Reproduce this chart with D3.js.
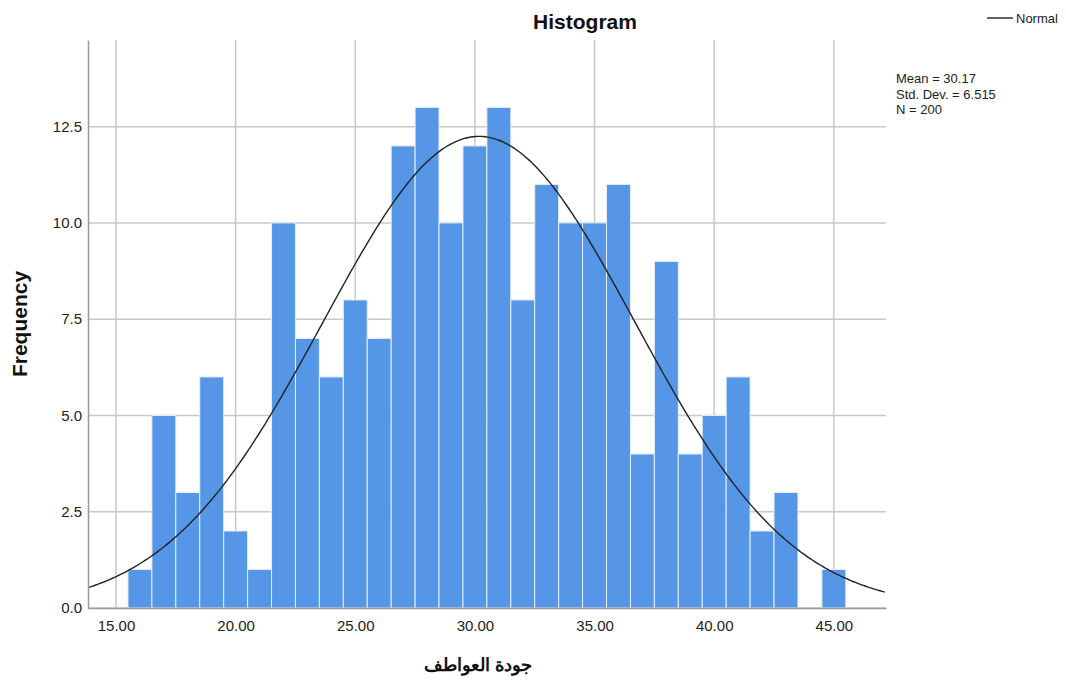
<!DOCTYPE html>
<html><head><meta charset="utf-8">
<script src="https://cdn.jsdelivr.net/npm/d3@7"></script>
<style>body{margin:0;background:#fff}svg{display:block}text{font-family:"Liberation Sans",Arial,sans-serif}</style>
</head><body><svg id="c" width="1066" height="681"></svg>
<script>
const binCenters = [16,17,18,19,20,21,22,23,24,25,26,27,28,29,30,31,32,33,34,35,36,37,38,39,40,41,42,43,44,45];
const counts     = [1,5,3,6,2,1,10,7,6,8,7,12,13,10,12,13,8,11,10,10,11,4,9,4,5,6,2,3,0,1];
const xTicks = [15,20,25,30,35,40,45];
const yTicks = [0,2.5,5,7.5,10,12.5];
const stats = {mean:30.17, sd:6.515, n:200};
const statLines = ["Mean = 30.17","Std. Dev. = 6.515","N = 200"];

const svg = d3.select("#c");
const L=88, R=886, T=40, B=608;
const x = d3.scaleLinear().domain([13.83,47.18]).range([L,R]);
const y = d3.scaleLinear().domain([0,14.75]).range([B,T]);

// grid
svg.append("g").selectAll("line").data(xTicks).join("line")
  .attr("x1",d=>x(d)).attr("x2",d=>x(d)).attr("y1",T).attr("y2",B)
  .attr("stroke","#c8c8c8").attr("stroke-width",1.5);
svg.append("g").selectAll("line").data(yTicks).join("line")
  .attr("x1",L).attr("x2",R).attr("y1",d=>y(d)).attr("y2",d=>y(d))
  .attr("stroke","#c8c8c8").attr("stroke-width",1.5);

// bars
svg.append("g").selectAll("rect").data(binCenters.map((c,i)=>({c,v:counts[i]})).filter(d=>d.v>0)).join("rect")
  .attr("x",d=>x(d.c-0.5)).attr("width",d=>x(d.c+0.5)-x(d.c-0.5))
  .attr("y",d=>y(d.v)).attr("height",d=>B-y(d.v))
  .attr("fill","#5596e6").attr("stroke","#e6eefa").attr("stroke-width",1);

// normal curve
const bw = 1;
const pts = d3.range(x.domain()[0], x.domain()[1]+0.01, 0.1).map(v=>[v, stats.n*bw/(stats.sd*Math.sqrt(2*Math.PI))*Math.exp(-0.5*((v-stats.mean)/stats.sd)**2)]);
svg.append("path").datum(pts)
  .attr("d", d3.line().x(d=>x(d[0])).y(d=>y(d[1])))
  .attr("fill","none").attr("stroke","#222").attr("stroke-width",1.4);

// axes
const xa = svg.append("g").attr("transform",`translate(0,${B})`)
  .call(d3.axisBottom(x).tickValues(xTicks).tickFormat(d3.format(".2f")).tickSize(0).tickPadding(12));
xa.select(".domain").attr("stroke","#999").attr("stroke-width",1.5);
xa.selectAll("text").attr("font-size",15).attr("fill","#222").attr("font-family","Liberation Sans, Arial, sans-serif");
const ya = svg.append("g").attr("transform",`translate(${L},0)`)
  .call(d3.axisLeft(y).tickValues(yTicks).tickFormat(d3.format(".1f")).tickSize(0).tickPadding(6));
ya.select(".domain").attr("stroke","#999").attr("stroke-width",1.5);
ya.selectAll("text").attr("font-size",15).attr("fill","#222").attr("font-family","Liberation Sans, Arial, sans-serif");

// title & labels
svg.append("text").attr("x",585).attr("y",29).attr("text-anchor","middle")
  .attr("font-size",21).attr("font-weight","bold").attr("fill","#111").text("Histogram");
svg.append("text").attr("transform","translate(27,324) rotate(-90)").attr("text-anchor","middle")
  .attr("font-size",21).attr("font-weight","bold").attr("fill","#111").text("Frequency");
svg.append("text").attr("x",478).attr("y",671).attr("text-anchor","middle")
  .attr("font-size",18).attr("font-weight","bold").attr("fill","#111")
  .attr("font-family","DejaVu Sans, sans-serif").text("جودة العواطف");

// legend
svg.append("line").attr("x1",987).attr("x2",1013).attr("y1",18).attr("y2",18).attr("stroke","#222").attr("stroke-width",1.4);
svg.append("text").attr("x",1016).attr("y",23).attr("font-size",13).attr("fill","#222").text("Normal");
svg.append("g").selectAll("text").data(statLines).join("text")
  .attr("x",896).attr("y",(d,i)=>83+i*15.5).attr("font-size",13).attr("fill","#222").text(d=>d);
</script></body></html>
